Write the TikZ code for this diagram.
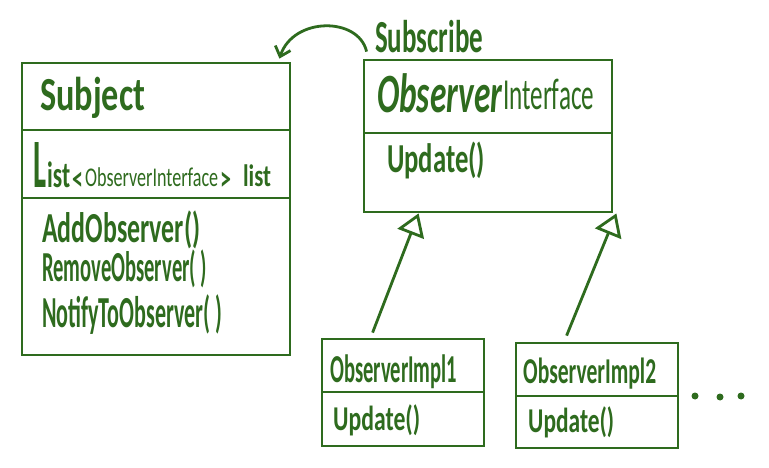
\documentclass[tikz,border=0pt]{standalone}
\usepackage{fontspec}
\setmainfont{Carlito}
\usetikzlibrary{arrows.meta}
\definecolor{ink}{HTML}{2E6B1E}
\newcommand{\fitt}[3]{\resizebox*{#1pt}{#2pt}{#3}}
\newcommand{\fitc}[3]{\resizebox*{#1pt}{#2pt}{\raisebox{0pt}[0.632em][0pt]{#3}}}
\newcommand{\bigangle}[1]{\raisebox{-3.5pt}{\scalebox{2.2}[3.4]{#1}}}
\begin{document}
\begin{tikzpicture}[x=1pt,y=-1pt,
  box/.style={draw=ink, line width=2.8pt, rectangle, inner sep=0pt},
  divider/.style={draw=ink, line width=2.8pt},
  lbl/.style={anchor=base west, inner sep=0pt, text=ink, font=\bfseries},
  conn/.style={draw=ink, line width=2.8pt}]
\fill[white] (0,0) rectangle (769,468);
\useasboundingbox (0,0) rectangle (769,468);
% boxes
\node[box, minimum width=268pt, minimum height=292pt] (subj) at (156,209) {};
\draw[divider] (22,130) -- (290,130);
\draw[divider] (22,198) -- (290,198);
\node[box, minimum width=248pt, minimum height=152pt] (iface) at (488,136) {};
\draw[divider] (364,133) -- (612,133);
\node[box, minimum width=162pt, minimum height=107pt] (impl1) at (403,392.5) {};
\draw[divider] (322,392) -- (484,392);
\node[box, minimum width=162pt, minimum height=105pt] (impl2) at (597,395.5) {};
\draw[divider] (516,396) -- (678,396);
% texts
\node[lbl] (tsubj) at (40,111) {\fitc{105}{30}{Subject}};
\node[lbl] (tlist) at (33,187) {\fitt{13}{45}{L}\hspace{1pt}\fitt{23}{26}{ist}\hspace{2pt}\bigangle{<}\hspace{2pt}\fitt{133}{19}{\mdseries ObserverInterface}\hspace{2pt}\bigangle{>}\hspace{12pt}\fitt{28}{22}{list}};
\node[lbl] (tadd) at (42,242) {\fitc{158}{27}{AddObserver()}};
\node[lbl] (trem) at (42,281) {\fitc{165}{27}{RemoveObserver( )}};
\node[lbl] (tnot) at (42,327) {\fitc{180}{28}{NotifyToObserver( )}};
\node[lbl] (tif) at (377,113) {\fitc{125}{35}{\itshape Observer}\hspace{1pt}\raisebox{3pt}{\fitc{91}{28}{\mdseries Interface}}};
\node[lbl] (tifu) at (387,173) {\fitc{98}{26}{Update()}};
\node[lbl] (tsub) at (375,53) {\fitc{108}{29}{Subscribe}};
\node[lbl] (ti1) at (330,382) {\fitc{127}{25}{ObserverImpl1}};
\node[lbl] (ti1u) at (333,430) {\fitc{87}{22}{Update()}};
\node[lbl] (ti2) at (523,383) {\fitc{133}{23}{ObserverImpl2}};
\node[lbl] (ti2u) at (528,432) {\fitc{86}{22}{Update()}};
% connectors
\draw[conn, -{Straight Barb[length=9pt,width=16pt]}] ([xshift=4pt,yshift=7pt]iface.north west) .. controls +(-8,-35) and +(14,-42) .. ([xshift=-12pt,yshift=3pt]subj.north east);
\draw[conn, -{Triangle[open, length=22pt, width=28pt]}] ([xshift=52pt,yshift=5pt]impl1.north west) -- ([xshift=56pt]iface.south west);
\draw[conn, -{Triangle[open, length=22pt, width=28pt]}] ([xshift=52pt,yshift=6pt]impl2.north west) -- ([xshift=3pt]iface.south east);
% dots
\fill[ink] (695,396) circle (3.5pt);
\fill[ink] (720,397) circle (3.5pt);
\fill[ink] (741,396) circle (3.5pt);
\end{tikzpicture}
\end{document}
